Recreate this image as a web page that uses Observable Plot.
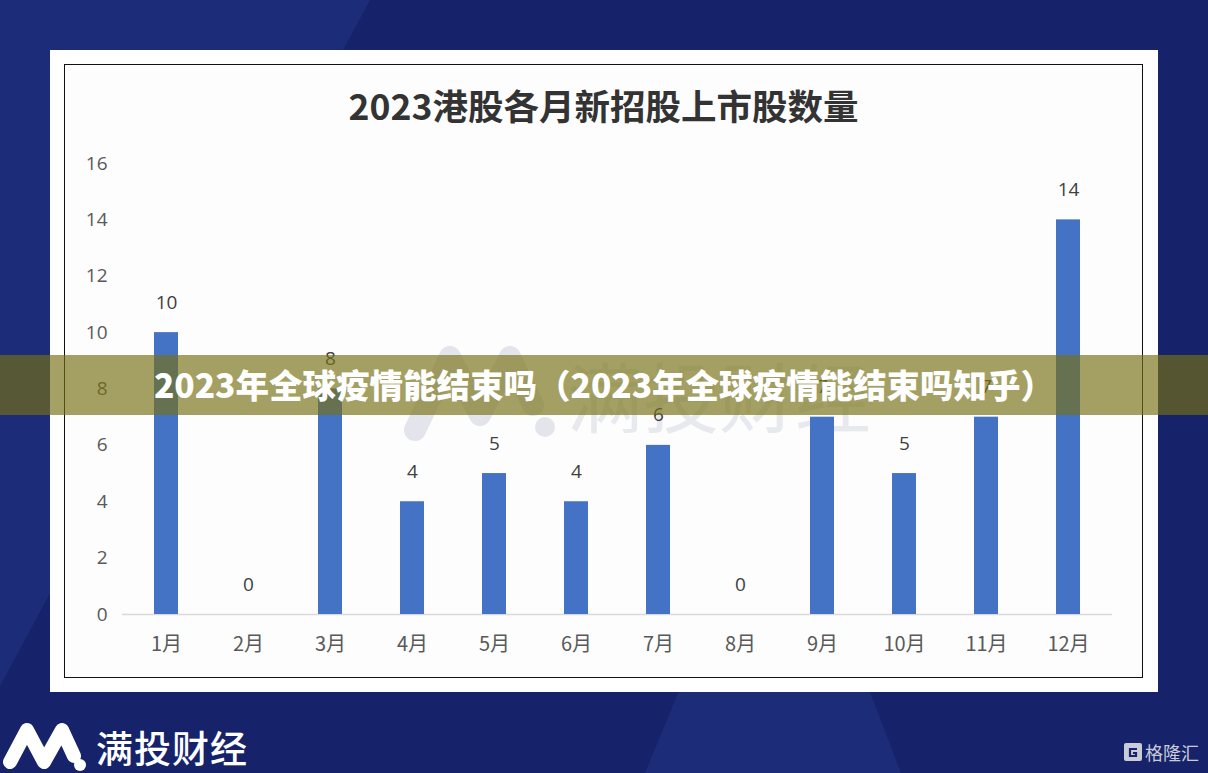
<!DOCTYPE html>
<html>
<head>
<meta charset="utf-8">
<script src="https://cdn.jsdelivr.net/npm/d3@7"></script>
<script src="https://cdn.jsdelivr.net/npm/@observablehq/plot@0.6"></script>
<style>
  html, body { margin: 0; padding: 0; }
  body { width: 1208px; height: 773px; overflow: hidden; position: relative; background: #16236a; font-family: "Noto Sans CJK SC", "Noto Sans", sans-serif; }
  .abs { position: absolute; }
  #bg { left: 0; top: 0; }
  #panel { left: 50px; top: 50px; width: 1108px; height: 642px; background: #ffffff; }
  #box { left: 64px; top: 64px; width: 1077px; height: 612px; border: 1.5px solid #111; background: #fdfdfd; }
  #title { left: 64px; top: 81px; width: 1079px; text-align: center; font-size: 35.5px; font-weight: 700; color: #333; letter-spacing: 0px; line-height: 48px; }
  #chart { left: 65px; top: 140px; }
  #wm { left: 395px; top: 335px; }
  #banner { left: 0; top: 355px; width: 1208px; height: 60px; background: rgba(118,113,20,0.66); }
  #bannerText { left: 0; top: 354px; width: 1208px; height: 60px; line-height: 60px; text-align: center; color: #fff; font-size: 33.5px; font-weight: 900; letter-spacing: 0px; }
  #logo { left: 0; top: 718px; }
  #logoText { left: 96px; top: 722px; color: #fff; font-size: 37px; font-weight: 500; line-height: 50px; letter-spacing: 1px; }
  #glh { left: 1124px; top: 740px; color: #c9ccd8; font-size: 18px; line-height: 24px; display: flex; align-items: center; gap: 3px; }
</style>
</head>
<body>
<svg id="bg" class="abs" width="1208" height="773">
  <rect width="1208" height="773" fill="#16236a"/>
  <polygon points="0,0 370,0 -47,773 0,773" fill="#1c2c78"/>
  <polygon points="700,640 850,640 901,773 645,773" fill="#1c2c78"/>
</svg>
<div id="panel" class="abs"></div>
<div id="box" class="abs"></div>
<svg id="wm" class="abs" width="500" height="110">
  <polyline points="20,95 55,22 85,80 115,22 138,70" fill="none" stroke="#e4e5ec" stroke-width="22" stroke-linecap="round" stroke-linejoin="round"/>
  <circle cx="150" cy="92" r="10" fill="#e4e5ec"/>
  <text x="172" y="92" font-size="76" fill="#e8e9ee" font-family="Noto Sans CJK SC">满投财经</text>
</svg>
<div id="title" class="abs">2023港股各月新招股上市股数量</div>
<div id="chart" class="abs"></div>
<div id="banner" class="abs"></div>
<div id="bannerText" class="abs">2023年全球疫情能结束吗（2023年全球疫情能结束吗知乎）</div>
<svg id="logo" class="abs" width="95" height="55">
  <polyline points="10,44 27,12 44,44 62,12 74,38" fill="none" stroke="#fff" stroke-width="14" stroke-linecap="round" stroke-linejoin="round"/>
  <circle cx="80" cy="47" r="6" fill="#fff"/>
</svg>
<div id="logoText" class="abs">满投财经</div>
<div id="glh" class="abs">
  <svg width="18" height="18"><rect x="0" y="0" width="18" height="18" rx="2" fill="#c9ccd8"/><path d="M13 6 H6 V13 H12 V10 H9" fill="none" stroke="#16236a" stroke-width="2.2"/></svg>
  <span>格隆汇</span>
</div>
<script>
const months = ["1月","2月","3月","4月","5月","6月","7月","8月","9月","10月","11月","12月"];
const counts = [10, 0, 8, 4, 5, 4, 6, 0, 7, 5, 7, 14];
const yTicks = [0, 2, 4, 6, 8, 10, 12, 14, 16];

const data = months.map((m, i) => ({month: m, value: counts[i]}));

const chart = Plot.plot({
  width: 1075,
  height: 530,
  marginTop: 23,
  marginBottom: 56,
  marginLeft: 57,
  marginRight: 28,
  style: {background: "transparent", fontFamily: "'Open Sans', 'Noto Sans CJK SC', sans-serif", fontSize: "18px", color: "#595959"},
  x: {domain: months, paddingInner: 0.71, paddingOuter: 0.355, label: null},
  y: {domain: [0, 16], label: null},
  marks: [
    Plot.ruleY([0], {stroke: "#d9d9d9", strokeWidth: 1.5}),
    Plot.barY(data, {x: "month", y: "value", fill: "#4472C4"}),
    Plot.text(data, {x: "month", y: "value", text: d => String(d.value), dy: -30, fill: "#404040", fontSize: 19}),
    Plot.axisY({ticks: yTicks, tickSize: 0, tickPadding: 15, fontSize: 19, label: null}),
    Plot.axisX({tickSize: 0, tickPadding: 22, fontSize: 20, fontFamily: "'Noto Sans CJK SC', sans-serif", label: null})
  ]
});
document.getElementById("chart").appendChild(chart);
</script>
</body>
</html>
